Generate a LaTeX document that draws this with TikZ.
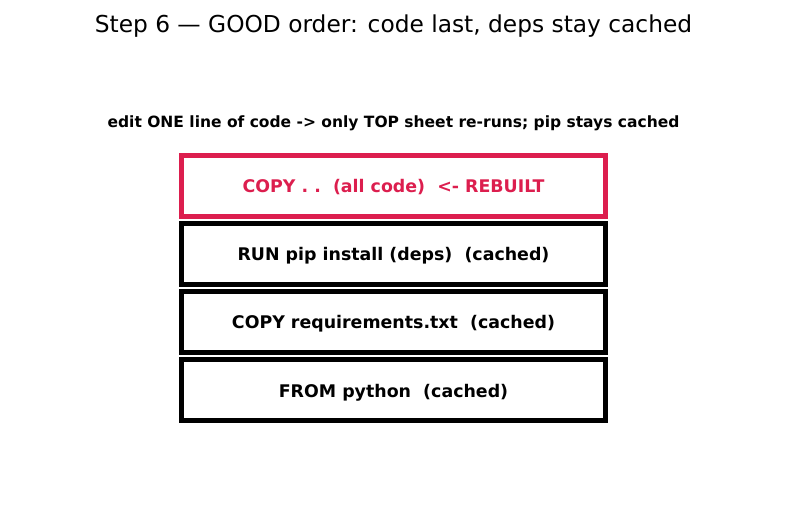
\documentclass[tikz,border=0pt]{standalone}
\usepackage{xcolor}
\usepackage{fontspec}
\setmainfont{DejaVu Sans}
\usepackage{tikz}
\usetikzlibrary{positioning}
\definecolor{rebuilt}{RGB}{220,30,78}

\begin{document}
\begin{tikzpicture}[x=1pt, y=1pt, auto,
  layer/.style={draw, line width=4.6pt, minimum width=424pt, minimum height=61pt, text height=17pt, text depth=3pt, font=\fontsize{17.4}{20}\selectfont\bfseries}]
\useasboundingbox (0,0) rectangle (787,-510);

\node (title) at (393.5,-26.5) {\fontsize{23.3}{27}\selectfont Step 6 --- GOOD order: code last, deps stay cached};
\node (note) at (393.5,-123.5) {\fontsize{15.5}{18}\selectfont\bfseries edit ONE line of code -> only TOP sheet re-runs; pip stays cached};

\node[layer, draw=rebuilt, text=rebuilt] (layer_3) at (393.5,-186) {COPY . .\ \ (all code)\ \ <- REBUILT};
\node[layer] (layer_2) at (393.5,-254) {RUN pip install (deps)\ \ (cached)};
\node[layer] (layer_1) at (393.5,-322) {COPY requirements.txt\ \ (cached)};
\node[layer] (layer_0) at (393.5,-390) {FROM python\ \ (cached)};

\end{tikzpicture}
\end{document}
